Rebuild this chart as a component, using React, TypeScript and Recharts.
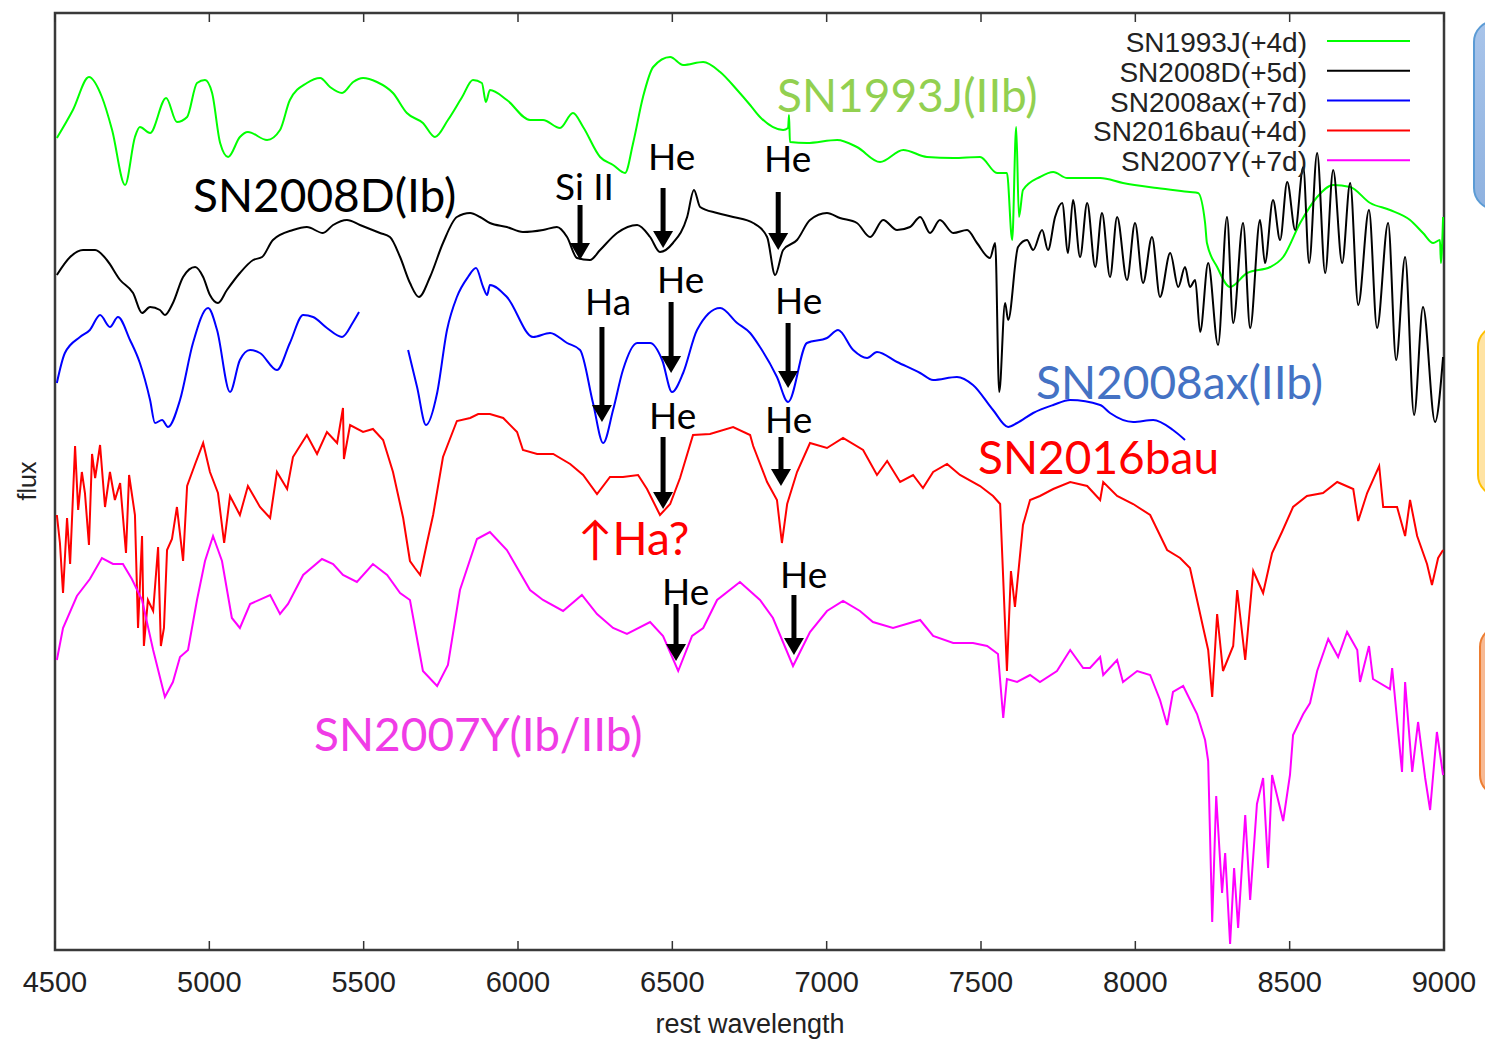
import { LineChart, Line, XAxis, YAxis, ReferenceArea, ReferenceLine } from "recharts";

// spectra: [rest wavelength (A), flux (arbitrary, offset per object)]
const sn1993J: [number, number][] = [
  [4506, 812], [4558, 840], [4610, 873], [4652, 853], [4685, 820], [4727, 765], [4759, 813], [4775, 823],
  [4808, 817], [4860, 852], [4895, 828], [4928, 833], [4960, 867], [4986, 870], [5009, 857], [5035, 807],
  [5061, 793], [5099, 813], [5125, 818], [5187, 810], [5229, 820], [5261, 850], [5316, 867], [5359, 872],
  [5391, 863], [5430, 857], [5466, 868], [5498, 872], [5543, 868], [5595, 857], [5640, 837], [5692, 827],
  [5731, 813], [5773, 830], [5819, 853], [5854, 870], [5883, 867], [5896, 848], [5909, 860], [5964, 850],
  [6039, 830], [6081, 830], [6136, 822], [6178, 837], [6211, 823], [6266, 793], [6308, 785], [6347, 777],
  [6373, 807], [6405, 853], [6438, 883], [6493, 893], [6535, 885], [6600, 888], [6655, 878], [6710, 860],
  [6752, 845], [6784, 833], [6859, 820], [6875, 822], [6878, 835], [6881, 808], [6936, 807], [7034, 810],
  [7098, 803], [7173, 788], [7248, 800], [7325, 793], [7410, 792], [7497, 793], [7552, 777], [7584, 777],
  [7601, 710], [7614, 823], [7623, 733], [7636, 760], [7691, 773], [7734, 778], [7779, 772], [7886, 772],
  [7960, 767], [8070, 762], [8177, 758], [8203, 757], [8226, 727], [8232, 707], [8265, 683], [8307, 663],
  [8362, 677], [8437, 683], [8479, 693], [8534, 727], [8589, 753], [8641, 765], [8696, 763], [8761, 747],
  [8825, 740], [8890, 730], [8932, 717], [8965, 707], [8987, 710], [8990, 687], [8997, 733],
];

const sn2008D: [number, number][] = [
  [4506, 675], [4549, 693], [4591, 700], [4630, 700], [4668, 690], [4711, 670], [4753, 657], [4782, 637],
  [4808, 643], [4840, 640], [4856, 635], [4882, 647], [4915, 673], [4954, 683], [4980, 673], [5002, 655],
  [5028, 647], [5057, 660], [5099, 677], [5142, 690], [5171, 693], [5206, 710], [5271, 720], [5316, 723],
  [5368, 717], [5401, 725], [5446, 730], [5488, 725], [5553, 717], [5585, 713], [5618, 693], [5650, 667],
  [5679, 653], [5715, 673], [5757, 707], [5802, 733], [5845, 737], [5877, 733], [5909, 727], [5964, 723],
  [6016, 718], [6081, 720], [6126, 723], [6159, 713], [6191, 692], [6233, 690], [6266, 700], [6321, 717],
  [6386, 725], [6428, 713], [6460, 698], [6502, 707], [6548, 733], [6570, 760], [6590, 743], [6645, 737],
  [6697, 733], [6762, 727], [6807, 713], [6833, 675], [6859, 700], [6904, 710], [6946, 730], [7001, 737],
  [7043, 732], [7098, 727], [7141, 713], [7183, 730], [7228, 720], [7270, 723], [7303, 733], [7335, 717],
  [7367, 730], [7410, 717], [7455, 720], [7487, 707], [7529, 692], [7546, 707], [7559, 558], [7578, 647],
  [7588, 630], [7620, 703], [7649, 710], [7669, 700], [7698, 720], [7717, 700], [7740, 733], [7763, 747],
  [7782, 697], [7798, 750], [7821, 693], [7844, 747], [7870, 683], [7892, 737], [7918, 673], [7941, 733],
  [7973, 670], [7999, 727], [8025, 667], [8054, 713], [8080, 653], [8113, 697], [8139, 663], [8161, 683],
  [8177, 663], [8194, 670], [8210, 618], [8236, 687], [8268, 605], [8297, 733], [8317, 627], [8349, 727],
  [8372, 622], [8404, 730], [8420, 687], [8446, 750], [8469, 710], [8492, 768], [8518, 720], [8544, 783],
  [8563, 687], [8589, 797], [8615, 677], [8641, 780], [8670, 687], [8696, 767], [8722, 645], [8757, 740],
  [8783, 622], [8819, 727], [8845, 590], [8874, 693], [8903, 535], [8932, 643], [8971, 528], [8997, 593],
];

// SN2008ax has a gap around 5500-5640 A
const sn2008axBlue: [number, number][] = [
  [4506, 567], [4532, 597], [4581, 613], [4613, 620], [4646, 635], [4678, 623], [4704, 633], [4743, 610],
  [4775, 587], [4808, 550], [4824, 527], [4847, 530], [4866, 523], [4905, 550], [4947, 607], [4996, 642],
  [5025, 620], [5067, 558], [5099, 590], [5132, 600], [5164, 597], [5219, 580], [5261, 607], [5304, 635],
  [5336, 633], [5381, 622], [5430, 613], [5466, 628], [5485, 638],
];
const sn2008axRed: [number, number][] = [
  [5644, 600], [5673, 563], [5702, 525], [5738, 557], [5770, 620], [5802, 653], [5838, 673], [5864, 682],
  [5887, 663], [5900, 655], [5909, 665], [5964, 653], [6049, 613], [6104, 617], [6159, 607], [6201, 600],
  [6243, 547], [6276, 507], [6308, 540], [6340, 580], [6386, 607], [6428, 607], [6467, 590], [6499, 558],
  [6535, 577], [6580, 620], [6655, 642], [6710, 627], [6752, 617], [6784, 603], [6839, 573], [6875, 548],
  [6936, 607], [7001, 612], [7037, 620], [7086, 600], [7131, 592], [7163, 598], [7228, 588], [7303, 577],
  [7345, 570], [7422, 573], [7474, 565], [7539, 540], [7588, 523], [7617, 527], [7669, 537], [7734, 545],
  [7789, 550], [7886, 545], [7918, 537], [7993, 528], [8058, 530], [8122, 520], [8161, 510],
];

const sn2016bau: [number, number][] = [
  [4506, 435], [4516, 407], [4526, 357], [4539, 432], [4549, 386], [4565, 504], [4575, 440], [4587, 478],
  [4597, 457], [4610, 405], [4620, 496], [4630, 472], [4646, 505], [4662, 443], [4678, 478], [4694, 450],
  [4711, 467], [4730, 397], [4740, 475], [4759, 435], [4769, 322], [4782, 414], [4788, 304], [4801, 350],
  [4818, 339], [4834, 403], [4843, 304], [4853, 322], [4863, 400], [4879, 411], [4895, 443], [4915, 389],
  [4928, 464], [4954, 486], [4980, 507], [5002, 478], [5028, 457], [5048, 407], [5067, 454], [5099, 435],
  [5125, 464], [5164, 443], [5197, 432], [5219, 478], [5252, 461], [5271, 493], [5316, 515], [5349, 496],
  [5381, 518], [5414, 507], [5433, 542], [5436, 491], [5456, 525], [5498, 518], [5530, 521], [5563, 510],
  [5595, 478], [5628, 432], [5650, 389], [5666, 382], [5683, 375], [5705, 407], [5725, 435], [5757, 493],
  [5802, 529], [5845, 532], [5871, 536], [5909, 536], [5952, 532], [5997, 518], [6016, 500], [6062, 496],
  [6114, 496], [6169, 486], [6211, 475], [6256, 456], [6298, 473], [6340, 473], [6389, 475], [6418, 461],
  [6460, 435], [6493, 446], [6525, 472], [6567, 515], [6622, 516], [6697, 523], [6752, 515], [6762, 504],
  [6807, 468], [6839, 450], [6855, 407], [6872, 446], [6904, 478], [6946, 507], [7001, 502], [7053, 512],
  [7118, 500], [7163, 475], [7196, 489], [7238, 468], [7280, 475], [7312, 462], [7345, 478], [7390, 486],
  [7432, 475], [7497, 464], [7539, 454], [7562, 446], [7572, 371], [7584, 279], [7597, 379], [7610, 343],
  [7636, 425], [7659, 450], [7691, 454], [7734, 461], [7789, 468], [7844, 464], [7886, 450], [7896, 468],
  [7941, 454], [7993, 446], [8048, 435], [8103, 400], [8145, 392], [8177, 382], [8200, 350], [8220, 322],
  [8236, 300], [8249, 253], [8265, 336], [8284, 279], [8317, 304], [8330, 360], [8356, 290], [8382, 379],
  [8414, 357], [8443, 397], [8475, 418], [8511, 443], [8556, 454], [8608, 457], [8654, 468], [8706, 461],
  [8722, 429], [8751, 457], [8790, 484], [8803, 443], [8848, 443], [8874, 414], [8890, 450], [8913, 414],
  [8945, 386], [8961, 365], [8981, 392], [8997, 400],
];

const sn2007Y: [number, number][] = [
  [4506, 290], [4526, 322], [4571, 354], [4613, 371], [4652, 392], [4688, 386], [4720, 386], [4749, 371],
  [4782, 350], [4818, 300], [4856, 253], [4882, 268], [4905, 293], [4931, 300], [4960, 350], [4986, 389],
  [5012, 414], [5041, 389], [5073, 332], [5099, 322], [5132, 346], [5197, 355], [5229, 336], [5255, 346],
  [5304, 375], [5365, 391], [5401, 386], [5433, 375], [5478, 368], [5530, 386], [5576, 375], [5618, 357],
  [5650, 350], [5692, 279], [5738, 264], [5773, 285], [5812, 360], [5867, 411], [5909, 418], [5964, 400],
  [6039, 360], [6081, 350], [6146, 339], [6207, 355], [6256, 336], [6308, 322], [6353, 316], [6428, 328],
  [6470, 314], [6519, 279], [6564, 314], [6600, 322], [6645, 350], [6719, 368], [6784, 350], [6826, 332],
  [6891, 284], [6946, 318], [7001, 339], [7053, 349], [7108, 339], [7150, 328], [7215, 322], [7303, 330],
  [7345, 314], [7410, 307], [7474, 307], [7520, 304], [7555, 296], [7572, 232], [7584, 271], [7617, 268],
  [7659, 275], [7691, 268], [7746, 279], [7789, 300], [7831, 282], [7853, 282], [7886, 293], [7896, 275],
  [7941, 290], [7960, 268], [8006, 279], [8048, 275], [8080, 250], [8103, 225], [8122, 258], [8155, 264],
  [8200, 236], [8226, 210], [8236, 189], [8249, 28], [8262, 154], [8281, 57], [8291, 97], [8307, 6],
  [8320, 82], [8333, 22], [8356, 135], [8372, 50], [8394, 146], [8414, 172], [8430, 82], [8443, 175],
  [8479, 129], [8501, 175], [8511, 215], [8544, 236], [8566, 247], [8589, 279], [8625, 311], [8657, 293],
  [8686, 318], [8719, 300], [8728, 268], [8757, 304], [8770, 271], [8825, 261], [8832, 282], [8864, 178],
  [8874, 268], [8897, 178], [8916, 228], [8939, 172], [8955, 140], [8977, 218], [8997, 175],
];

const wavelengthTicks = [4500, 5000, 5500, 6000, 6500, 7000, 7500, 8000, 8500, 9000];

const legendLabels = ["SN1993J(+4d)", "SN2008D(+5d)", "SN2008ax(+7d)", "SN2016bau(+4d)", "SN2007Y(+7d)"];
const legendColors = ["#00ff00", "#000000", "#0000ff", "#ff0000", "#ff00ff"];

// line identification arrows: wavelength, flux at tail, flux at tip
const arrowWave = [6201, 6470, 6843, 6272, 6496, 6875, 6470, 6852, 6512, 6894];
const arrowTop = [745, 762, 758, 623, 648, 627, 513, 513, 346, 355];
const arrowTip = [690, 702, 700, 528, 577, 562, 441, 464, 289, 295];

const pts = (arr: [number, number][]) => arr.map(([w, f]) => ({ w, f }));

const W = 1485;
const H = 1041;
const AXIS_FONT = "'Liberation Sans', Arial, sans-serif";
const NOTE_FONT = "Lato, 'Open Sans', sans-serif";

const Arrow = (props: any) => {
  const { x1, y1, x2, y2 } = props;
  const head = 17;
  return (
    <g>
      <line x1={x1} y1={y1} x2={x2} y2={y2 - head + 2} stroke="#000" strokeWidth={5} />
      <polygon points={`${x2 - 10},${y2 - head} ${x2 + 10},${y2 - head} ${x2},${y2}`} fill="#000" />
    </g>
  );
};

const WaveTick = ({ x, y, payload }: any) => (
  <text x={x} y={y + 42} textAnchor="middle" fontSize={29} fontFamily={AXIS_FONT} fill="#222">
    {payload.value}
  </text>
);

const notes = [
  { t: "SN1993J(IIb)", x: 777, y: 112, c: "#92d050", s: 46 },
  { t: "SN2008D(Ib)", x: 193, y: 212, c: "#000", s: 46 },
  { t: "SN2008ax(IIb)", x: 1036, y: 399, c: "#4472c4", s: 46 },
  { t: "SN2016bau", x: 978, y: 474, c: "#ff0000", s: 46 },
  { t: "SN2007Y(Ib/IIb)", x: 314, y: 751, c: "#f03ce6", s: 46 },
  { t: "↑Ha?", x: 578, y: 555, c: "#ff0000", s: 46 },
  { t: "Si II", x: 555, y: 200, c: "#000", s: 37 },
  { t: "He", x: 648, y: 170, c: "#000", s: 37 },
  { t: "He", x: 764, y: 172, c: "#000", s: 37 },
  { t: "Ha", x: 585, y: 315, c: "#000", s: 37 },
  { t: "He", x: 657, y: 293, c: "#000", s: 37 },
  { t: "He", x: 775, y: 314, c: "#000", s: 37 },
  { t: "He", x: 649, y: 429, c: "#000", s: 37 },
  { t: "He", x: 765, y: 433, c: "#000", s: 37 },
  { t: "He", x: 662, y: 605, c: "#000", s: 37 },
  { t: "He", x: 780, y: 588, c: "#000", s: 37 },
];

const boxes = [
  { top: 20, h: 190, left: 1473, fill: "linear-gradient(#a8c4ea, #8fb2e0)", border: "#5b9bd5" },
  { top: 325, h: 172, left: 1477, fill: "#ffe3a3", border: "#ffc000" },
  { top: 625, h: 172, left: 1479, fill: "#f7b993", border: "#ed7d31" },
];

export default function App() {
  return (
    <div style={{ position: "fixed", left: 0, top: 0, width: W, height: H, overflow: "hidden", background: "#fff" }}>
      <LineChart width={W} height={H} margin={{ top: 13, right: 41, left: 55, bottom: 0 }}>
        <XAxis
          type="number"
          dataKey="w"
          domain={[4500, 9000]}
          ticks={wavelengthTicks}
          allowDataOverflow
          axisLine={false}
          tickLine={false}
          tickSize={0}
          tickMargin={0}
          height={91}
          tick={WaveTick}
        />
        <YAxis type="number" dataKey="f" domain={[0, 937]} hide allowDataOverflow />
        <ReferenceArea x1={4500} x2={9000} y1={0} y2={937} fill="none" stroke="#3a3a3a" strokeWidth={2.5} />
        {wavelengthTicks.map((t) => (
          <ReferenceLine key={`b${t}`} segment={[{ x: t, y: 0 }, { x: t, y: 9 }]} stroke="#333" strokeWidth={1.5} />
        ))}
        {wavelengthTicks.map((t) => (
          <ReferenceLine key={`t${t}`} segment={[{ x: t, y: 928 }, { x: t, y: 937 }]} stroke="#333" strokeWidth={1.5} />
        ))}
        <Line type="monotone" data={pts(sn1993J)} dataKey="f" stroke="#00ff00" strokeWidth={2} dot={false} isAnimationActive={false} />
        <Line type="monotone" data={pts(sn2008D)} dataKey="f" stroke="#000000" strokeWidth={2} dot={false} isAnimationActive={false} />
        <Line type="monotone" data={pts(sn2008axBlue)} dataKey="f" stroke="#0000ff" strokeWidth={2} dot={false} isAnimationActive={false} />
        <Line type="monotone" data={pts(sn2008axRed)} dataKey="f" stroke="#0000ff" strokeWidth={2} dot={false} isAnimationActive={false} />
        <Line data={pts(sn2016bau)} dataKey="f" stroke="#ff0000" strokeWidth={2} dot={false} isAnimationActive={false} />
        <Line data={pts(sn2007Y)} dataKey="f" stroke="#ff00ff" strokeWidth={2} dot={false} isAnimationActive={false} />
        {arrowWave.map((w, i) => (
          <ReferenceLine
            key={`a${i}`}
            segment={[{ x: w, y: arrowTop[i] }, { x: w, y: arrowTip[i] }]}
            shape={Arrow}
            ifOverflow="visible"
          />
        ))}
      </LineChart>

      <svg width={W} height={H} style={{ position: "absolute", left: 0, top: 0, pointerEvents: "none" }}>
        {legendLabels.map((lab, i) => {
          const cy = 41 + i * 29.8;
          return (
            <g key={lab}>
              <text x={1307} y={cy + 11} textAnchor="end" fontSize={28} fontFamily={AXIS_FONT} fill="#222">
                {lab}
              </text>
              <line x1={1327} x2={1410} y1={cy} y2={cy} stroke={legendColors[i]} strokeWidth={2} />
            </g>
          );
        })}
        {notes.map((n, i) => (
          <text key={i} x={n.x} y={n.y} fontSize={n.s} fontFamily={NOTE_FONT} fill={n.c}>
            {n.t}
          </text>
        ))}
        <text x={750} y={1033} textAnchor="middle" fontSize={27} fontFamily={AXIS_FONT} fill="#222">
          rest wavelength
        </text>
        <text
          x={0}
          y={0}
          transform="translate(36 481) rotate(-90)"
          textAnchor="middle"
          fontSize={25}
          fontFamily={AXIS_FONT}
          fill="#222"
        >
          flux
        </text>
      </svg>

      {boxes.map((b, i) => (
        <div
          key={i}
          style={{
            position: "absolute",
            left: b.left,
            top: b.top,
            width: 60,
            height: b.h,
            background: b.fill,
            border: `2.5px solid ${b.border}`,
            borderRadius: 22,
            boxSizing: "border-box",
          }}
        />
      ))}
    </div>
  );
}
